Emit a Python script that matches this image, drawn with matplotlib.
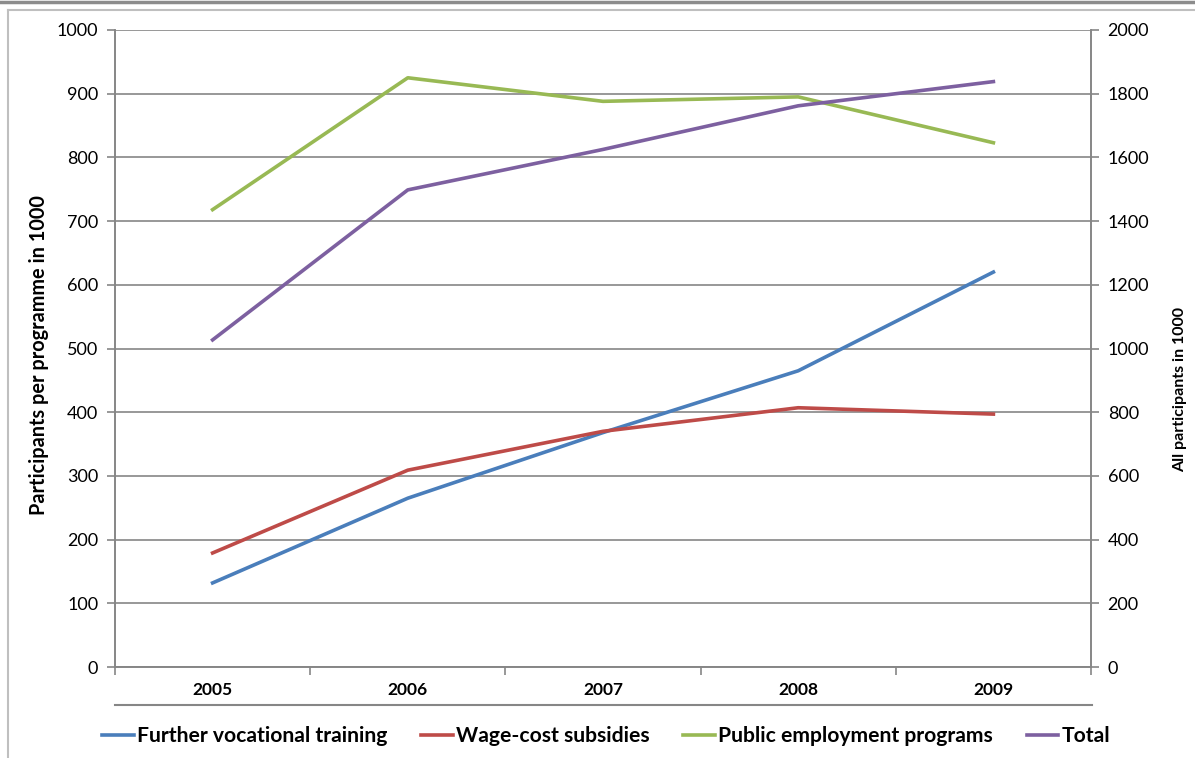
import matplotlib.pyplot as plt
from matplotlib.lines import Line2D

plt.rcParams['font.family'] = ['Lato', 'DejaVu Sans']

# Datos (en miles)
years = ['2005', '2006', '2007', '2008', '2009']
training = [132, 265, 368, 465, 620]
wage_cost = [179, 309, 370, 407, 397]
public_emp = [718, 925, 888, 895, 823]
total = [1027, 1498, 1625, 1762, 1838]

grey = '#868686'

fig = plt.figure(figsize=(11.95, 7.58), dpi=100)
ax = fig.add_axes([115 / 1195, 1 - 667 / 758, 976 / 1195, 637 / 758])
ax2 = ax.twinx()

x = range(len(years))
l1, = ax.plot(x, training, color='#4A7EBB', lw=2.6)
l2, = ax.plot(x, wage_cost, color='#BE4B48', lw=2.6)
l3, = ax.plot(x, public_emp, color='#98B954', lw=2.6)
l4, = ax2.plot(x, total, color='#7D60A0', lw=2.6)

ax.set_xlim(-0.5, len(years) - 0.5)
ax.set_ylim(0, 1000)
ax2.set_ylim(0, 2000)
ax.set_yticks(range(0, 1001, 100))
ax2.set_yticks(range(0, 2001, 200))
ax.grid(axis='y', color=grey, lw=1.2)
ax.set_axisbelow(True)

# eje x: etiquetas centradas, marcas entre categorías
ax.set_xticks([i - 0.5 for i in range(len(years) + 1)])
ax.set_xticklabels([])
ax.set_xticks(list(x), minor=True)
ax.set_xticklabels(years, minor=True, fontsize=12.5, fontweight='bold')
ax.tick_params(axis='x', which='major', length=6, color=grey, width=1.2)
ax.tick_params(axis='x', which='minor', length=0, pad=11)
ax.tick_params(axis='y', length=6, color=grey, width=1.2, labelsize=13, pad=6)
ax2.tick_params(axis='y', length=6, color=grey, width=1.2, labelsize=13, pad=6)

for a in (ax, ax2):
    a.spines['top'].set_visible(False)
    for s in ('left', 'right', 'bottom'):
        a.spines[s].set_color(grey)
        a.spines[s].set_linewidth(1.2)

ax.set_ylabel('Participants per programme in 1000', fontsize=14.3, fontweight='bold')
ax.yaxis.set_label_coords(-66 / 976, 0.49)
ax2.set_ylabel('All participants in 1000', fontsize=11.5, fontweight='bold')
ax2.yaxis.set_label_coords(1 + 82 / 976, (667 - 390) / 637)

# línea inferior bajo las etiquetas del eje x
fig.add_artist(Line2D([115 / 1195, 1092 / 1195], [1 - 705 / 758] * 2, color=grey, lw=1.5))

# bordes del gráfico
fig.add_artist(Line2D([0, 1], [1 - 1.5 / 758] * 2, color='#8c8c8c', lw=2.5))
fig.add_artist(Line2D([8 / 1195, 1], [1 - 10 / 758] * 2, color='#bfbfbf', lw=1.5))
fig.add_artist(Line2D([8 / 1195] * 2, [0, 1 - 10 / 758], color='#bfbfbf', lw=1.5))

fig.legend([l1, l2, l3, l4],
           ['Further vocational training', 'Wage-cost subsidies',
            'Public employment programs', 'Total'],
           loc='center', bbox_to_anchor=(606 / 1195, 1 - 736 / 758), ncol=4,
           frameon=False, prop={'size': 15.2, 'weight': 'bold'},
           handlelength=1.5, handletextpad=0.15, columnspacing=1.6)

fig.savefig('out.png', dpi=100)
